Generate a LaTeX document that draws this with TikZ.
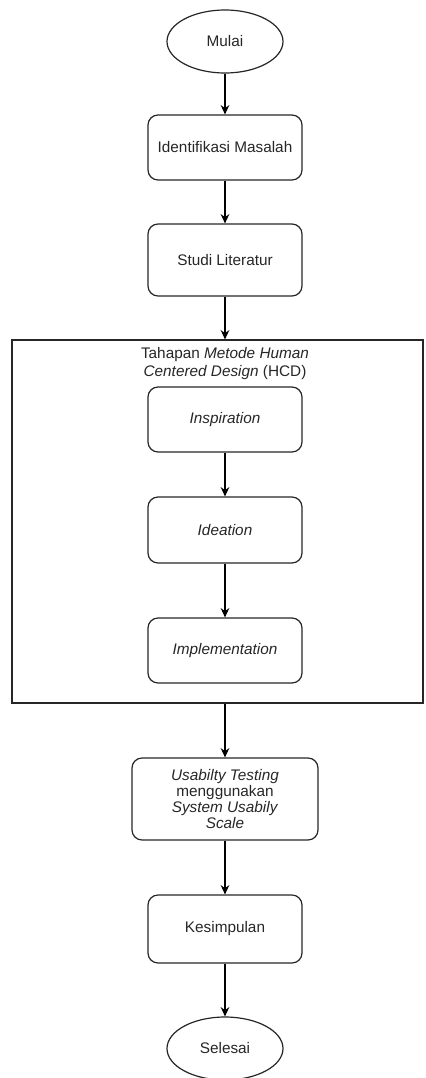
\documentclass[tikz,border=0pt]{standalone}
\usepackage{fontspec}
\setmainfont{Liberation Sans}
\usetikzlibrary{arrows.meta,shapes.geometric}
\begin{document}
\begin{tikzpicture}[x=0.75pt,y=-0.75pt,
  every node/.style={font=\fontsize{11.5}{13.5}\selectfont, text=black!85},
  procbox/.style={draw=black!85, line width=0.9pt, rounded corners=7.5pt, inner sep=0pt, align=center, minimum width=115.5pt},
  termnode/.style={draw=black!85, line width=0.9pt, ellipse, inner sep=0pt, minimum width=87pt, minimum height=47.25pt},
  flow/.style={draw=black, line width=0.9pt, -{Stealth[length=7pt,width=6.5pt]}}
]
\useasboundingbox (0,0) rectangle (425,1078);
\node[termnode] (mulai) at (225,41.5) {Mulai};
\node[procbox, minimum height=48.75pt] (ident) at (225,147.5) {Identifikasi Masalah};
\node[procbox, minimum height=54pt] (studi) at (225,260) {Studi Literatur};
\node[draw=black!85, line width=0.9pt, minimum width=308.25pt, minimum height=272.25pt, inner sep=0pt] (hcd) at (217.5,521.5) {};
\node[align=center, font=\fontsize{11.5}{13.5}\selectfont] (title) at (225,364) {Tahapan \textit{Metode Human}\\\textit{Centered Design} (HCD)};
\node[procbox, minimum height=48.75pt] (insp) at (225,419.5) {\textit{Inspiration}};
\node[procbox, minimum height=49.5pt] (idea) at (225,530) {\textit{Ideation}};
\node[procbox, minimum height=48.75pt] (impl) at (225,650.5) {\textit{Implementation}};
\node[procbox, minimum width=139.5pt, minimum height=61.5pt, font=\fontsize{11.5}{12}\selectfont] (usab) at (225,799) {\textit{Usabilty Testing}\\menggunakan\\\textit{System Usabily}\\\textit{Scale}};
\node[procbox, minimum height=51pt] (kes) at (225,929) {Kesimpulan};
\node[termnode] (selesai) at (225,1048.5) {Selesai};
\draw[flow] (mulai) -- (ident);
\draw[flow] (ident) -- (studi);
\draw[flow] (studi) -- (studi |- hcd.north);
\draw[flow] (insp) -- (idea);
\draw[flow] (idea) -- (impl);
\draw[flow] (usab |- hcd.south) -- (usab);
\draw[flow] (usab) -- (kes);
\draw[flow] (kes) -- (selesai);
\end{tikzpicture}
\end{document}
